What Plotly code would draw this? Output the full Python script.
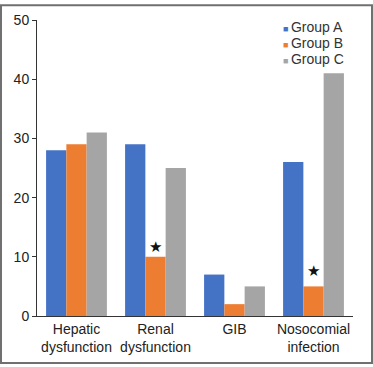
import plotly.graph_objects as go

categories = ["Hepatic<br>dysfunction", "Renal<br>dysfunction", "GIB", "Nosocomial<br>infection"]
group_a = [28, 29, 7, 26]
group_b = [29, 10, 2, 5]
group_c = [31, 25, 5, 41]
series_names = ["Group A", "Group B", "Group C"]
colors = ["#4472C4", "#ED7D31", "#A5A5A5"]
star_categories = ["Renal<br>dysfunction", "Nosocomial<br>infection"]
star_y = [11.8, 7.7]
y_ticks = [0, 10, 20, 30, 40, 50]

W, H = 373, 367
ml, mr, mt, mb = 37, 20, 16, 49
pw, ph = W - ml - mr, H - mt - mb

fig = go.Figure()
for name, vals, col in zip(series_names, [group_a, group_b, group_c], colors):
    fig.add_trace(go.Bar(x=categories, y=vals, name=name, marker_color=col,
                         marker_line_width=0, showlegend=False))

for c, yv in zip(star_categories, star_y):
    fig.add_annotation(x=c, y=yv, text="★", showarrow=False,
                       font=dict(size=15, color="#111"), xref="x", yref="y")

# legend drawn as text entries (top right)
legend_left_px, legend_top_px, legend_step_px = 281, 23, 16.5
for i, (name, col) in enumerate(zip(series_names, colors)):
    py = legend_top_px + i * legend_step_px
    fig.add_annotation(
        xref="paper", yref="paper",
        x=(legend_left_px - ml) / pw, y=1 - (py - mt) / ph,
        xanchor="left", yanchor="middle", showarrow=False,
        text=f"<span style='color:{col};font-size:9px'>■ </span>{name}",
        font=dict(size=14, color="#333333"),
    )

fig.add_shape(type="rect", xref="paper", yref="paper",
              x0=-(ml - 1) / pw, x1=1 + (mr - 1) / pw,
              y0=-(mb - 1) / ph, y1=1 + (mt - 1) / ph,
              line=dict(color="#707070", width=2))

fig.update_layout(
    width=W, height=H,
    margin=dict(l=ml, r=mr, t=mt, b=mb, pad=0),
    paper_bgcolor="white", plot_bgcolor="white",
    barmode="group", bargap=0.23, bargroupgap=0,
    showlegend=False,
    font=dict(family="Liberation Sans, Arial, sans-serif", size=14, color="#222222"),
    xaxis=dict(showline=True, linecolor="#333333", linewidth=1, ticks="",
               showgrid=False, tickfont=dict(size=14)),
    yaxis=dict(range=[0, 50], tickvals=y_ticks, showline=True, linecolor="#333333",
               linewidth=1, ticks="outside", ticklen=4, tickcolor="#333333",
               showgrid=False, zeroline=False, tickfont=dict(size=14)),
)

fig.write_html("out.html", config={"displayModeBar": False},
               post_script="document.body.style.margin='0';document.body.style.overflow='hidden';")
